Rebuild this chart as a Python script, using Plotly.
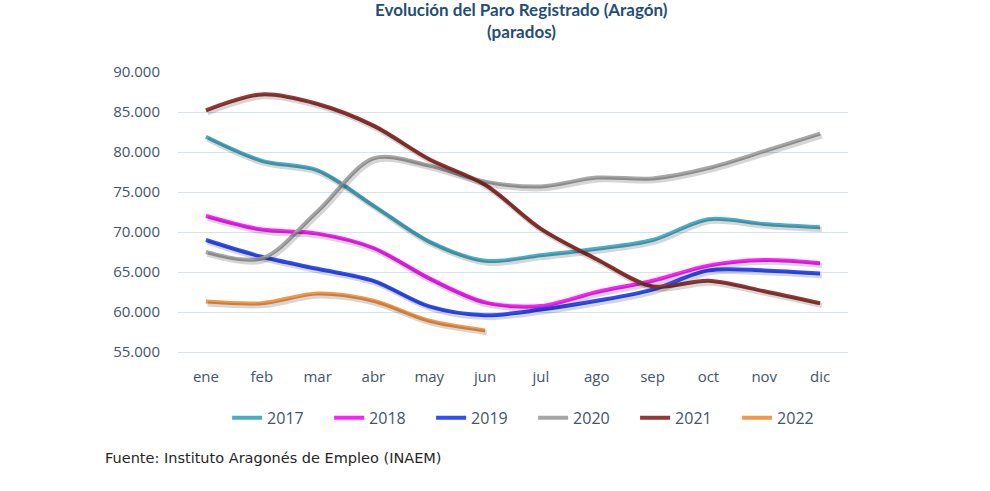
import plotly.graph_objects as go

months = ["ene", "feb", "mar", "abr", "may", "jun", "jul", "ago", "sep", "oct", "nov", "dic"]
y2017 = [81900, 78900, 77700, 73300, 68800, 66400, 67100, 67900, 69000, 71600, 71000, 70600]
y2018 = [72000, 70300, 69800, 68000, 64200, 61200, 60750, 62500, 63900, 65800, 66500, 66100]
y2019 = [69000, 66900, 65400, 63900, 60700, 59600, 60300, 61400, 62800, 65200, 65200, 64800]
y2020 = [67500, 66700, 72600, 79200, 78300, 76300, 75700, 76800, 76700, 78000, 80100, 82300]
y2021 = [85200, 87200, 86000, 83300, 79100, 75900, 70400, 66600, 63200, 63900, 62600, 61100]
y2022 = [61300, 61100, 62300, 61400, 58900, 57700]

series = [
    ("2017", y2017, "#4BACC6"),
    ("2018", y2018, "#FF1EFF"),
    ("2019", y2019, "#2F4DFF"),
    ("2020", y2020, "#A6A6A6"),
    ("2021", y2021, "#953734"),
    ("2022", y2022, "#F79646"),
]

fig = go.Figure()

# soft drop shadows on slightly offset overlay axes
for name, vals, col in series:
    fig.add_trace(go.Scatter(
        x=months[:len(vals)], y=vals, mode="lines",
        line=dict(color="rgba(0,0,0,0.16)", width=5, shape="spline", smoothing=0.9),
        xaxis="x2", yaxis="y2", showlegend=False, hoverinfo="skip",
    ))

for name, vals, col in series:
    fig.add_trace(go.Scatter(
        x=months[:len(vals)], y=vals, mode="lines", name=name,
        line=dict(color=col, width=4, shape="spline", smoothing=0.9),
    ))

tick_font = dict(family="Open Sans", size=15, color="#44546A")
title_font = dict(family="Lato", size=17, color="#1F4E79", weight="bold")

fig.update_layout(
    width=990, height=491,
    paper_bgcolor="white", plot_bgcolor="white",
    margin=dict(l=178, r=142, t=72, b=139),
    separators=",.",
    xaxis=dict(
        type="category", categoryorder="array", categoryarray=months,
        range=[-0.5, 11.5], showgrid=False, zeroline=False,
        showline=True, linecolor="#D6E3F3", linewidth=1,
        ticks="outside", ticklen=11, tickcolor="rgba(0,0,0,0)",
        tickfont=tick_font, fixedrange=True,
    ),
    yaxis=dict(
        range=[55000, 90000], dtick=5000, tickformat=",.0f",
        showgrid=True, gridcolor="#D6E3F3", gridwidth=1, zeroline=False,
        ticks="outside", ticklen=14, tickcolor="rgba(0,0,0,0)",
        tickfont=tick_font, fixedrange=True,
    ),
    xaxis2=dict(
        type="category", categoryarray=months, overlaying="x",
        range=[-0.5 - 0.03, 11.5 - 0.03], visible=False,
    ),
    yaxis2=dict(
        range=[55000 + 300, 90000 + 300], overlaying="y", visible=False,
    ),
    legend=dict(
        orientation="h", x=0.53, xanchor="center", y=-0.235, yanchor="middle",
        font=dict(family="Open Sans", size=16, color="#44546A"),
        itemwidth=30, entrywidth=57, traceorder="normal",
    ),
    annotations=[
        dict(
            text="Evolución del Paro Registrado (Aragón)",
            xref="paper", yref="paper", x=0.513, y=1 + 62 / 280,
            xanchor="center", yanchor="middle", showarrow=False, font=title_font,
        ),
        dict(
            text="(parados)",
            xref="paper", yref="paper", x=0.513, y=1 + 41 / 280,
            xanchor="center", yanchor="middle", showarrow=False, font=title_font,
        ),
        dict(
            text="Fuente: Instituto Aragonés de Empleo (INAEM)",
            xref="paper", yref="paper", x=-75 / 670, y=-106 / 280,
            xanchor="left", yanchor="middle", showarrow=False,
            font=dict(family="DejaVu Sans", size=14.5, color="#262626"),
        ),
    ],
)

fig.write_html(
    "out.html",
    config={"displayModeBar": False},
    post_script="document.body.style.margin='0px';",
)
